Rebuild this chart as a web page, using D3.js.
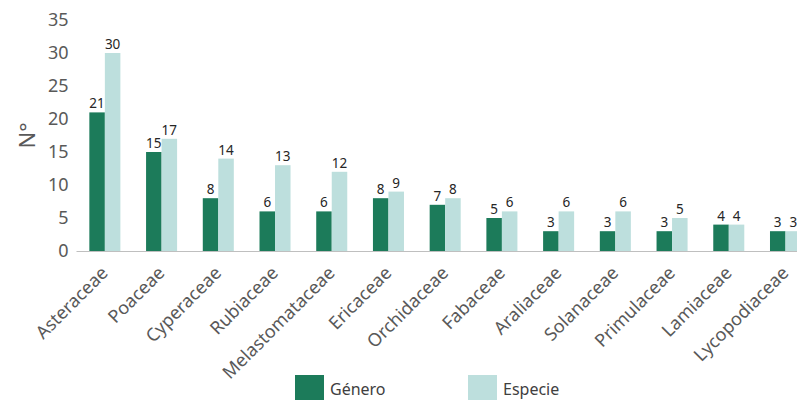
<!DOCTYPE html>
<html>
<head>
<meta charset="utf-8">
<script src="https://d3js.org/d3.v7.min.js"></script>
<style>
  body { margin: 0; background: #fff; }
  text { font-family: "Noto Sans", "Open Sans", sans-serif; }
</style>
</head>
<body>
<div id="chart"></div>
<script>
    // data
    var familias = ["Asteraceae", "Poaceae", "Cyperaceae", "Rubiaceae", "Melastomataceae",
        "Ericaceae", "Orchidaceae", "Fabaceae", "Araliaceae", "Solanaceae",
        "Primulaceae", "Lamiaceae", "Lycopodiaceae"];
    var genero  = [21, 15, 8, 6, 6, 8, 7, 5, 3, 3, 3, 4, 3];
    var especie = [30, 17, 14, 13, 12, 9, 8, 6, 6, 6, 5, 4, 3];
    var series = ["Género", "Especie"];
    var colores = ["#1c7b5a", "#bddfdd"];
    var yTicks = [0, 5, 10, 15, 20, 25, 30, 35];

    var W = 797, H = 400;
    var margin = {top: 20, left: 76.5, bottom: 149};
    var plotBottom = H - margin.bottom;

    var svg = d3.select("#chart").append("svg")
        .attr("width", W)
        .attr("height", H);

    var x = d3.scaleBand()
        .domain(familias)
        .range([margin.left, margin.left + 13 * 56.72])
        .paddingInner(0.453)
        .paddingOuter(0.2265);

    var xs = d3.scaleBand()
        .domain(series)
        .range([0, x.bandwidth()]);

    var y = d3.scaleLinear()
        .domain([0, 35])
        .range([plotBottom, margin.top]);

    var color = d3.scaleOrdinal().domain(series).range(colores);

    // y axis (labels only)
    var yAxis = svg.append("g")
        .attr("transform", "translate(" + margin.left + ",0)")
        .call(d3.axisLeft(y).tickValues(yTicks).tickSize(0).tickPadding(8));
    yAxis.select(".domain").remove();
    yAxis.selectAll("text")
        .style("font-size", "18px")
        .style("font-family", "'Noto Sans', sans-serif")
        .attr("fill", "#595959");

    // y title
    svg.append("text")
        .attr("transform", "translate(35," + ((plotBottom + margin.top) / 2) + ") rotate(-90)")
        .style("text-anchor", "middle")
        .style("font-size", "22px")
        .attr("fill", "#595959")
        .text("N°");

    var rows = familias.map(function (f, i) {
        return {familia: f, valores: [genero[i], especie[i]]};
    });

    // bars
    var grupos = svg.append("g").selectAll("g")
        .data(rows)
        .enter().append("g")
        .attr("transform", function (d) { return "translate(" + x(d.familia) + ",0)"; });

    grupos.selectAll("rect")
        .data(function (d) { return d.valores.map(function (v, j) { return {s: series[j], v: v}; }); })
        .enter().append("rect")
        .attr("x", function (d) { return xs(d.s); })
        .attr("y", function (d) { return y(d.v); })
        .attr("width", xs.bandwidth())
        .attr("height", function (d) { return plotBottom - y(d.v); })
        .attr("fill", function (d) { return color(d.s); });

    grupos.selectAll(".lbl")
        .data(function (d) { return d.valores.map(function (v, j) { return {s: series[j], v: v}; }); })
        .enter().append("text")
        .attr("class", "lbl")
        .attr("x", function (d) { return xs(d.s) + xs.bandwidth() / 2; })
        .attr("y", function (d) { return y(d.v) - 4; })
        .style("text-anchor", "middle")
        .style("font-size", "13.5px")
        .attr("fill", "#262626")
        .text(function (d) { return d.v; });

    // x axis line and labels
    var xAxis = svg.append("g")
        .attr("transform", "translate(0," + plotBottom + ")")
        .call(d3.axisBottom(x).tickSize(0).tickSizeOuter(0).tickPadding(0));
    xAxis.select(".domain")
        .attr("d", "M" + margin.left + ",0.5H" + W)
        .attr("stroke", "#bfbfbf");
    xAxis.selectAll("text")
        .style("font-size", "18px")
        .style("font-family", "'Noto Sans', sans-serif")
        .attr("fill", "#595959")
        .style("text-anchor", "end")
        .attr("y", 0)
        .attr("dy", "0.72em")
        .attr("transform", "translate(-5,14) rotate(-45)");

    // legend
    var leg = svg.append("g").selectAll("g")
        .data(series)
        .enter().append("g")
        .attr("transform", function (d, i) { return "translate(" + (295 + i * 173) + ",375)"; });
    leg.append("rect")
        .attr("width", 29)
        .attr("height", 29)
        .attr("fill", function (d) { return color(d); });
    leg.append("text")
        .attr("x", 35)
        .attr("y", 20)
        .style("font-size", "16px")
        .attr("fill", "#404040")
        .text(function (d) { return d; });
</script>
</body>
</html>
